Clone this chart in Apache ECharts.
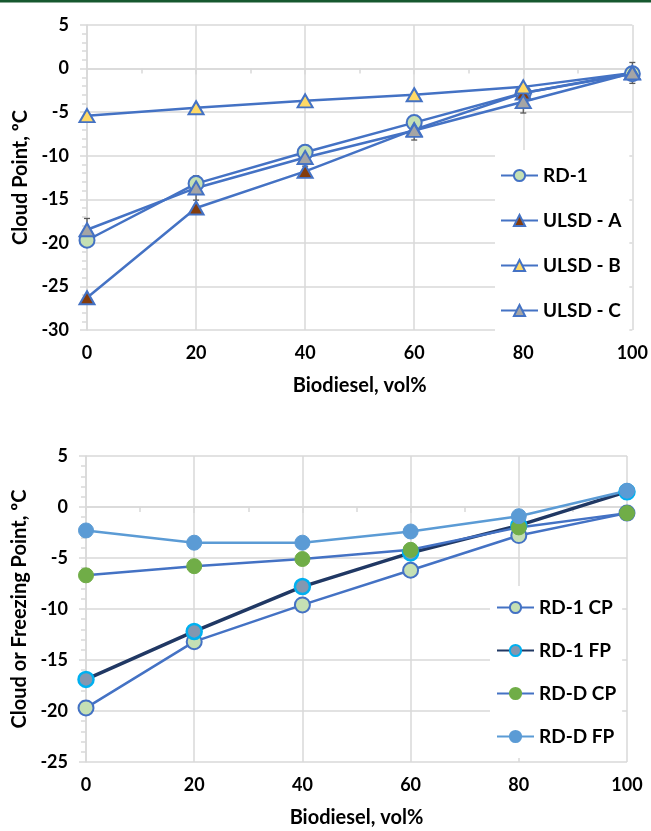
<!DOCTYPE html>
<html><head><meta charset="utf-8">
<script src="https://cdn.jsdelivr.net/npm/echarts@6/dist/echarts.min.js"></script>
<style>html,body{margin:0;padding:0;background:#fff}#c{width:651px;height:831px}</style>
</head><body><div id="c"></div>
<script>
// ---------- data ----------
const xVals = [0, 20, 40, 60, 80, 100];
// top chart: Cloud Point
const rd1 = [-19.7, -13.2, -9.6, -6.2, -2.8, -0.6];
const ulsdA = [-26.3, -16.0, -11.8, -7.0, -2.8, -0.5];
const ulsdB = [-5.4, -4.5, -3.7, -3.0, -2.1, -0.5];
const ulsdC = [-18.5, -13.7, -10.2, -7.1, -3.8, -0.5];
const ulsdCErr = [1.3, 1.4, 1.0, 1.1, 1.3, 1.2];
// bottom chart: Cloud or Freezing Point
const rd1CP = [-19.7, -13.2, -9.6, -6.2, -2.8, -0.6];
const rd1FP = [-16.9, -12.2, -7.8, -4.5, -1.8, 1.5];
const rdDCP = [-6.7, -5.8, -5.1, -4.2, -2.0, -0.6];
const rdDFP = [-2.3, -3.5, -3.5, -2.4, -0.9, 1.6];
const xTicks = [0, 20, 40, 60, 80, 100];
const yTicksTop = [5, 0, -5, -10, -15, -20, -25, -30];
const yTicksBottom = [5, 0, -5, -10, -15, -20, -25];

// ---------- helpers ----------
const pairs = (ys) => xVals.map((x, i) => [x, ys[i]]);
const FONT = 'Lato, "Liberation Sans", sans-serif';
const GRID = '#d9d9d9';
const BLUE = '#4472c4';
const labelStyle = { color: '#000', fontWeight: 'bold', fontSize: 18, fontFamily: FONT };
const nameStyle = { color: '#000', fontWeight: 'bold', fontSize: 20, fontFamily: FONT };

function xAxis(gi) {
  return {
    type: 'value', gridIndex: gi, min: xTicks[0], max: xTicks[xTicks.length - 1], interval: 20,
    name: 'Biodiesel, vol%', nameLocation: 'middle', nameGap: 46,
    nameTextStyle: nameStyle,
    axisLine: { show: true, lineStyle: { color: GRID, width: 1.5 } },
    axisTick: { show: true, inside: false, length: 6, lineStyle: { color: GRID, width: 1.5 } },
    minorTick: { show: true, splitNumber: 2, length: 5, lineStyle: { color: GRID, width: 1.5 } },
    splitLine: { show: true, lineStyle: { color: GRID, width: 1.5 } },
    axisLabel: Object.assign({ margin: 14 }, labelStyle)
  };
}
function yAxis(gi, ticks, name) {
  return {
    type: 'value', gridIndex: gi, min: Math.min(...ticks), max: Math.max(...ticks), interval: 5,
    name: name, nameLocation: 'middle', nameGap: 55,
    nameTextStyle: nameStyle,
    axisLine: { show: true, lineStyle: { color: GRID, width: 1.5 } },
    axisTick: { show: true, inside: false, length: 7, lineStyle: { color: GRID, width: 1.5 } },
    minorTick: { show: true, splitNumber: 5, length: 5, lineStyle: { color: GRID, width: 1.5 } },
    splitLine: { show: true, lineStyle: { color: GRID, width: 1.5 } },
    axisLabel: Object.assign({ margin: 18 }, labelStyle)
  };
}
function lineSeries(name, ys, gi, opt) {
  return Object.assign({
    type: 'line', name: name, xAxisIndex: gi, yAxisIndex: gi, data: pairs(ys),
    symbol: 'circle', symbolSize: 15, showAllSymbol: true,
    lineStyle: { color: BLUE, width: 2.5 },
    itemStyle: { color: '#c5e0b4', borderColor: BLUE, borderWidth: 2 },
    z: 3
  }, opt);
}

const errData = xVals.map((x, i) => [x, ulsdC[i] - ulsdCErr[i], ulsdC[i] + ulsdCErr[i]]);
const legendText = { color: '#000', fontWeight: 'bold', fontSize: 19, fontFamily: FONT };

const option = {
  animation: false,
  backgroundColor: '#fff',
  graphic: [{ type: 'rect', shape: { x: 0, y: 0, width: 651, height: 2.5 }, style: { fill: '#16582f' } }],
  grid: [
    { left: 87, top: 25, width: 546, height: 305 },
    { left: 86, top: 456, width: 541, height: 306 }
  ],
  xAxis: [xAxis(0), xAxis(1)],
  yAxis: [yAxis(0, yTicksTop, 'Cloud Point, ºC'), yAxis(1, yTicksBottom, 'Cloud or Freezing Point, ºC')],
  legend: [
    {
      data: ['RD-1', 'ULSD - A', 'ULSD - B', 'ULSD - C'],
      orient: 'vertical', left: 495, top: 150, itemWidth: 37, itemHeight: 14, itemGap: 26,
      padding: [16, 8, 14, 5], backgroundColor: '#fff',
      textStyle: legendText
    },
    {
      data: ['RD-1 CP', 'RD-1 FP', 'RD-D CP', 'RD-D FP'],
      orient: 'vertical', left: 490, top: 586, itemWidth: 37, itemHeight: 14, itemGap: 24,
      padding: [12, 6, 12, 6], backgroundColor: '#fff',
      textStyle: legendText
    }
  ],
  series: [
    {
      type: 'custom', name: 'err', xAxisIndex: 0, yAxisIndex: 0, data: errData, z: 2,
      encode: { x: 0, y: [1, 2] },
      renderItem: function (params, api) {
        const x = api.value(0);
        const lo = api.coord([x, api.value(1)]);
        const hi = api.coord([x, api.value(2)]);
        const st = { stroke: '#595959', lineWidth: 1.3 };
        const w = 3;
        return {
          type: 'group', children: [
            { type: 'line', shape: { x1: lo[0], y1: lo[1], x2: hi[0], y2: hi[1] }, style: st },
            { type: 'line', shape: { x1: lo[0] - w, y1: lo[1], x2: lo[0] + w, y2: lo[1] }, style: st },
            { type: 'line', shape: { x1: hi[0] - w, y1: hi[1], x2: hi[0] + w, y2: hi[1] }, style: st }
          ]
        };
      }
    },
    lineSeries('RD-1', rd1, 0, {}),
    lineSeries('ULSD - A', ulsdA, 0, { symbol: 'triangle', symbolSize: [15, 13], itemStyle: { color: '#843c0c', borderColor: BLUE, borderWidth: 2 } }),
    lineSeries('ULSD - B', ulsdB, 0, { symbol: 'triangle', symbolSize: [15, 13], itemStyle: { color: '#ffd966', borderColor: BLUE, borderWidth: 2 } }),
    lineSeries('ULSD - C', ulsdC, 0, { symbol: 'triangle', symbolSize: [15, 13], itemStyle: { color: '#a5a5a5', borderColor: BLUE, borderWidth: 2 } }),
    lineSeries('RD-1 CP', rd1CP, 1, {}),
    lineSeries('RD-1 FP', rd1FP, 1, { lineStyle: { color: '#203864', width: 3.5 }, itemStyle: { color: '#8497b0', borderColor: '#00b0f0', borderWidth: 2.5 } }),
    lineSeries('RD-D CP', rdDCP, 1, { lineStyle: { color: BLUE, width: 2.5 }, itemStyle: { color: '#70ad47', borderColor: '#70ad47', borderWidth: 1 } }),
    lineSeries('RD-D FP', rdDFP, 1, { lineStyle: { color: '#5b9bd5', width: 2.5 }, itemStyle: { color: '#5b9bd5', borderColor: '#5b9bd5', borderWidth: 1 } })
  ]
};
const chart = echarts.init(document.getElementById('c'), null, { renderer: 'canvas' });
chart.setOption(option);
</script>
</body></html>
